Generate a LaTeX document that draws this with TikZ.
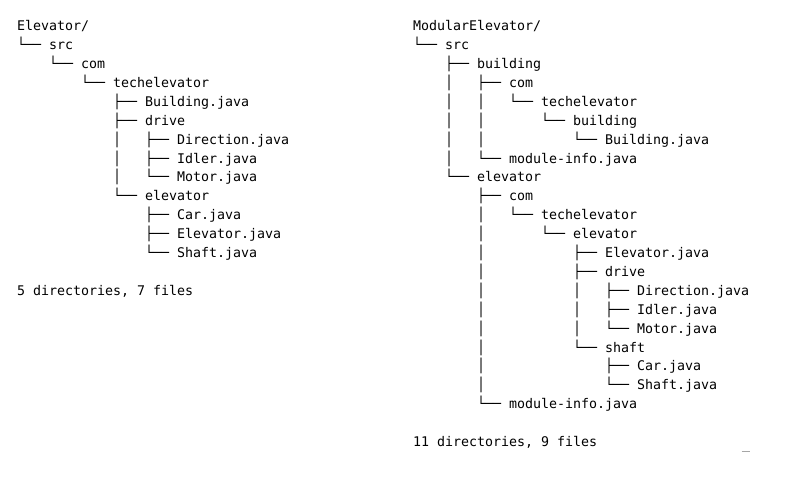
\documentclass[tikz,border=0pt]{standalone}
\usepackage{fontspec}
\setmonofont{DejaVu Sans Mono}
\begin{document}
\begin{tikzpicture}[x=1pt,y=1pt,
  tl/.style={anchor=base west, inner sep=0pt, outer sep=0pt,
    font=\ttfamily\fontsize{13.3}{16}\selectfont, text=black}]
% canvas
\fill[white] (0,0) rectangle (800,-500);
\useasboundingbox (0,0) rectangle (800,-500);
% one terminal line: name, left origin, column, row, text
\newcommand\tline[5]{\node[tl] (#1) at ({#2+8*#3},{-(30.7+18.9*#4)}) {#5};}
% ---- Elevator tree ----
\tline{a0}{17}{0}{0}{Elevator/}
\tline{a1}{17}{0}{1}{└──~src}
\tline{a2}{17}{4}{2}{└──~com}
\tline{a3}{17}{8}{3}{└──~techelevator}
\tline{a4}{17}{12}{4}{├──~Building.java}
\tline{a5}{17}{12}{5}{├──~drive}
\tline{a6}{17}{12}{6}{│~~~├──~Direction.java}
\tline{a7}{17}{12}{7}{│~~~├──~Idler.java}
\tline{a8}{17}{12}{8}{│~~~└──~Motor.java}
\tline{a9}{17}{12}{9}{└──~elevator}
\tline{a10}{17}{16}{10}{├──~Car.java}
\tline{a11}{17}{16}{11}{├──~Elevator.java}
\tline{a12}{17}{16}{12}{└──~Shaft.java}
\tline{a14}{17}{0}{14}{5~directories,~7~files}
% ---- ModularElevator tree ----
\tline{b0}{413}{0}{0}{ModularElevator/}
\tline{b1}{413}{0}{1}{└──~src}
\tline{b2}{413}{4}{2}{├──~building}
\tline{b3}{413}{4}{3}{│~~~├──~com}
\tline{b4}{413}{4}{4}{│~~~│~~~└──~techelevator}
\tline{b5}{413}{4}{5}{│~~~│~~~~~~~└──~building}
\tline{b6}{413}{4}{6}{│~~~│~~~~~~~~~~~└──~Building.java}
\tline{b7}{413}{4}{7}{│~~~└──~module-info.java}
\tline{b8}{413}{4}{8}{└──~elevator}
\tline{b9}{413}{8}{9}{├──~com}
\tline{b10}{413}{8}{10}{│~~~└──~techelevator}
\tline{b11}{413}{8}{11}{│~~~~~~~└──~elevator}
\tline{b12}{413}{8}{12}{│~~~~~~~~~~~├──~Elevator.java}
\tline{b13}{413}{8}{13}{│~~~~~~~~~~~├──~drive}
\tline{b14}{413}{8}{14}{│~~~~~~~~~~~│~~~├──~Direction.java}
\tline{b15}{413}{8}{15}{│~~~~~~~~~~~│~~~├──~Idler.java}
\tline{b16}{413}{8}{16}{│~~~~~~~~~~~│~~~└──~Motor.java}
\tline{b17}{413}{8}{17}{│~~~~~~~~~~~└──~shaft}
\tline{b18}{413}{8}{18}{│~~~~~~~~~~~~~~~├──~Car.java}
\tline{b19}{413}{8}{19}{│~~~~~~~~~~~~~~~└──~Shaft.java}
\tline{b20}{413}{8}{20}{└──~module-info.java}
\tline{b22}{413}{0}{22}{11~directories,~9~files}
% cursor mark
\coordinate (c1) at (741.5,-451);
\coordinate (c2) at (750,-451);
\draw[gray!70, line width=0.8pt] (c1) -- (c2);
\end{tikzpicture}
\end{document}
